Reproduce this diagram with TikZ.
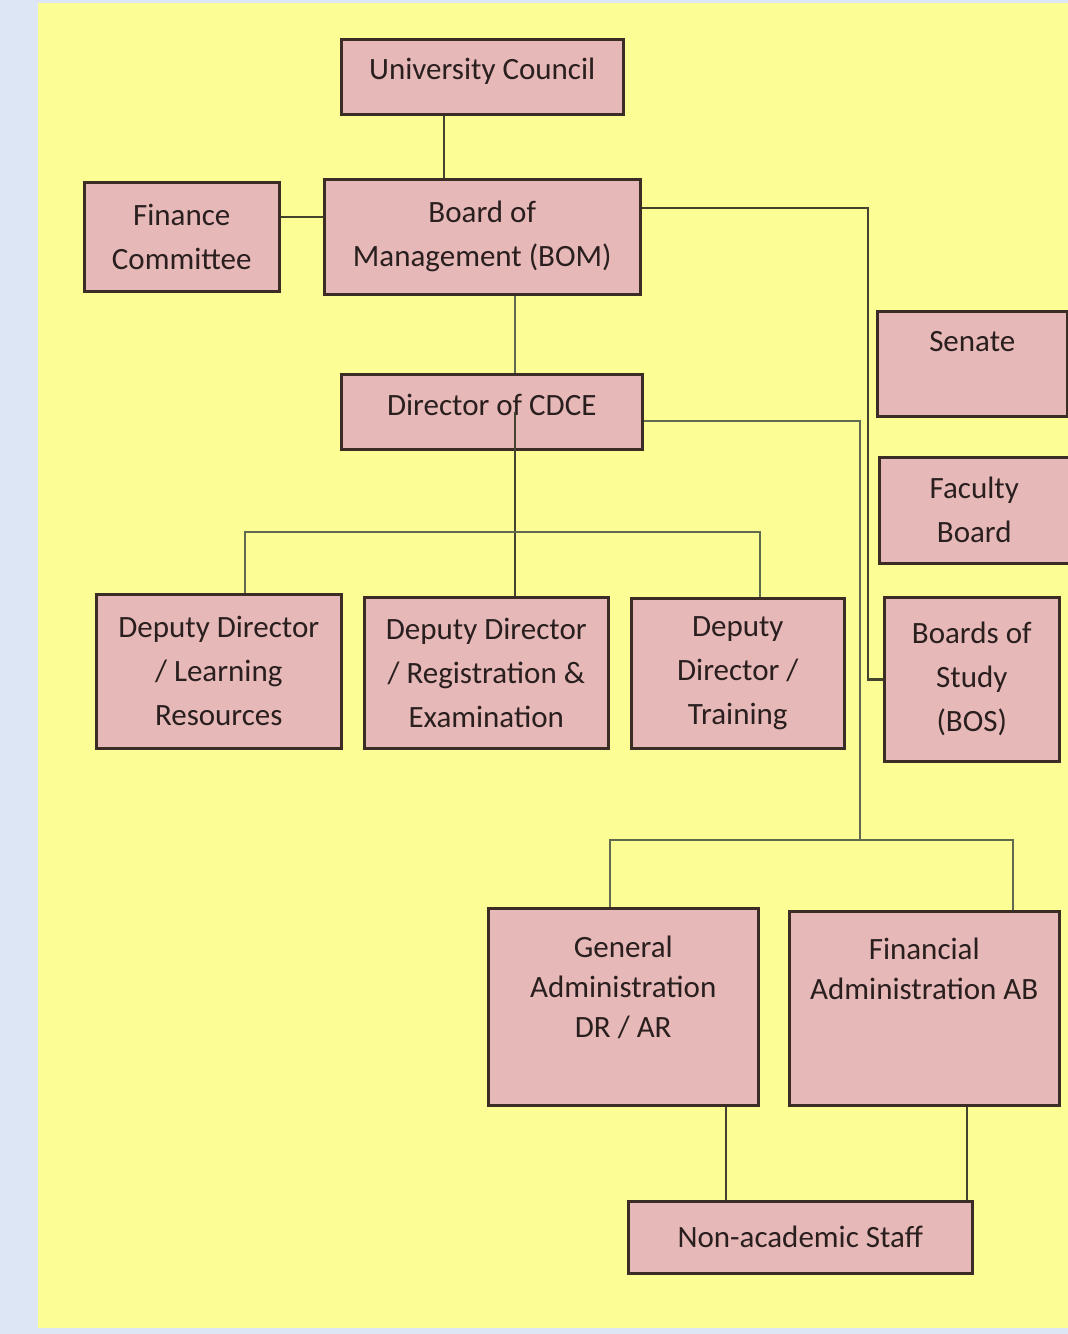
\documentclass[tikz,border=0pt]{standalone}
\usepackage{xcolor}
\usepackage{fontspec}
\setmainfont{Carlito}
\usepackage{tikz}
\usetikzlibrary{positioning}

\definecolor{paper}{HTML}{FDFD96}
\definecolor{frame}{HTML}{DCE6F5}
\definecolor{boxfill}{HTML}{E6B8B7}
\definecolor{boxline}{HTML}{3B2D25}
\definecolor{ink}{HTML}{2A1F1F}
\definecolor{wire}{HTML}{434330}
\definecolor{wirelight}{HTML}{5F6A4E}

\begin{document}
\begin{tikzpicture}[x=1pt, y=-1pt,
    unit/.style={draw=boxline, line width=2.5pt, fill=boxfill, anchor=north west,
        align=center, inner sep=0pt, text=ink, font=\fontsize{31}{44}\selectfont},
    tight/.style={font=\fontsize{31}{40}\selectfont},
    link/.style={draw=wire, line width=2.8pt},
    feed/.style={draw=wirelight, line width=2pt}]
            \fill[frame] (0,0) rectangle (1068,1334);
            \fill[paper] (38,3) rectangle (1068,1328);
            \useasboundingbox (0,0) rectangle (1068,1334);

            \node[unit, minimum width=282pt, minimum height=75pt, text depth=16pt] (UC) at (340,38) {University Council};
            \node[unit, minimum width=316pt, minimum height=115pt] (BOM) at (323,178) {Board of\\Management (BOM)};
            \node[unit, minimum width=195pt, minimum height=109pt] (FC) at (83,181) {Finance\\Committee};
            \node[unit, minimum width=301pt, minimum height=75pt, text depth=14pt] (DIR) at (340,373) {Director of CDCE};
            \node[unit, minimum width=190pt, minimum height=105pt] (SEN) at (876,310) {Senate\\~};
            \node[unit, minimum width=190pt, minimum height=106pt] (FB) at (878,456) {Faculty\\Board};
            \node[unit, minimum width=175pt, minimum height=164pt] (BOS) at (883,596) {Boards of\\Study\\(BOS)};
            \node[unit, minimum width=245pt, minimum height=154pt] (DDL) at (95,593) {Deputy Director\\/ Learning\\Resources};
            \node[unit, minimum width=244pt, minimum height=151pt] (DDR) at (363,596) {Deputy Director\\/ Registration \&\\Examination};
            \node[unit, minimum width=213pt, minimum height=150pt] (DDT) at (630,597) {Deputy\\Director /\\Training};
            \node[unit, tight, minimum width=270pt, minimum height=197pt] (GA) at (487,907) {General\\Administration\\DR / AR\\~};
            \node[unit, tight, minimum width=270pt, minimum height=194pt] (FA) at (788,910) {Financial\\Administration AB\\~\\~};
            \node[unit, minimum width=344pt, minimum height=72pt] (NAS) at (627,1200) {Non-academic Staff};

            \coordinate (uctap) at (444,0);
            \coordinate (fctap) at (0,217);
            \coordinate (spine) at (515,0);
            \coordinate (bomturn) at (868,208);
            \coordinate (dirturn) at (860,421);
            \coordinate (ddltap) at (245,532);
            \coordinate (ddttap) at (760,532);
            \coordinate (gadrop) at (610,840);
            \coordinate (fadrop) at (1013,840);
            \coordinate (gatap) at (726,0);
            \coordinate (fatap) at (967,0);

            \draw[link] (UC.south -| uctap) -- (BOM.north -| uctap);
            \draw[link] (FC.east |- fctap) -- (BOM.west |- fctap);
            \draw[link] (BOM.east |- bomturn) -- (bomturn) |- (BOS.west);
            \draw[feed] (BOM.south -| spine) -- (DIR.north -| spine);
            \draw[link] (DIR.center -| spine) -- (DDR.north -| spine);
            \draw[feed] (DDL.north -| ddltap) -- (ddltap) -- (ddttap) -- (DDT.north -| ddttap);
            \draw[feed] (DIR.east |- dirturn) -- (dirturn) -- (dirturn |- gadrop);
            \draw[feed] (GA.north -| gadrop) -- (gadrop) -- (fadrop) -- (FA.north -| fadrop);
            \draw[link] (GA.south -| gatap) -- (NAS.north -| gatap);
            \draw[link] (FA.south -| fatap) -- (NAS.north -| fatap);
        \end{tikzpicture}
\end{document}
